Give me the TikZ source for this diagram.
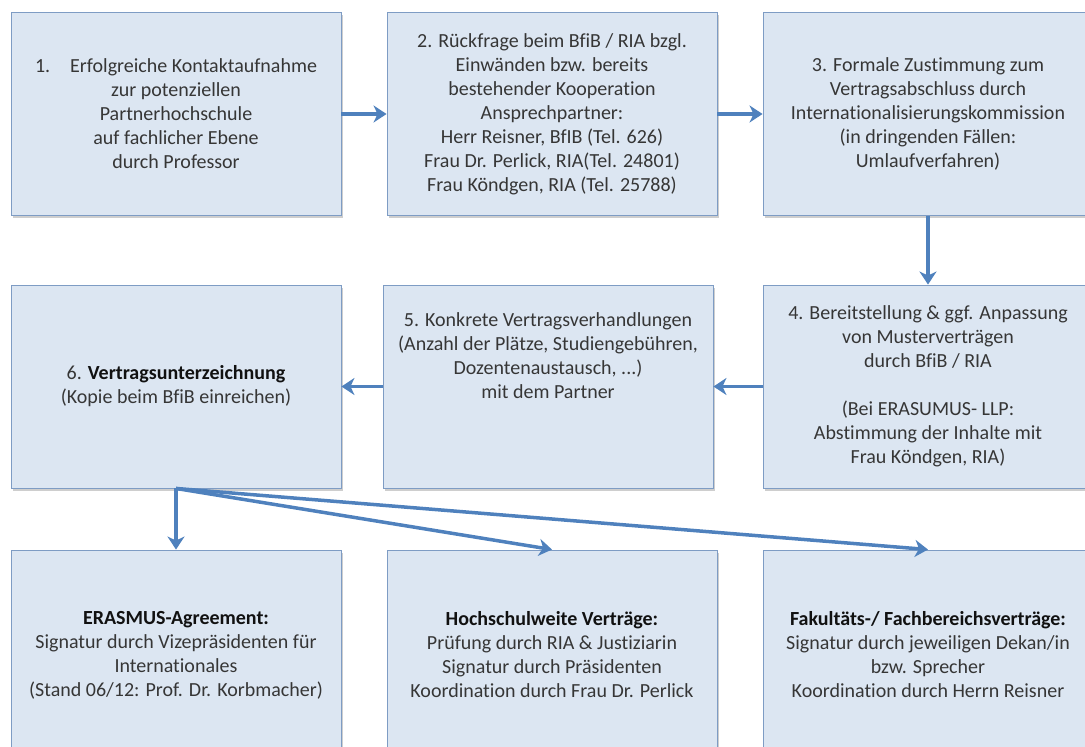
\documentclass[tikz,border=0pt]{standalone}
\usepackage{fontspec}
\setmainfont{Carlito}[Ligatures=NoCommon]
\usetikzlibrary{shapes,arrows.meta,positioning,shadows}
\definecolor{boxfill}{HTML}{DCE6F2}
\definecolor{boxline}{HTML}{7E9CC4}
\definecolor{arrowblue}{HTML}{4F81BD}
\definecolor{txtgray}{HTML}{363636}
\definecolor{txtdark}{HTML}{111111}
\tikzset{%
stepbox/.style={rectangle, draw=boxline, line width=0.9pt, fill=boxfill, minimum width=330pt, minimum height=203pt, align=center, text=txtgray, font=\fontsize{20}{24}\selectfont, drop shadow={shadow xshift=1.5pt, shadow yshift=-2.5pt, opacity=.35, fill=black!55}},
steptext/.style={align=center, text=txtgray, font=\fontsize{20}{24}\selectfont},
pt/.style={draw=arrowblue, line width=3.5pt, -{Stealth[length=13pt,width=17pt,inset=4pt]}}
}
\newcommand{\hd}[1]{\textbf{\color{txtdark}#1}}

\begin{document}
\begin{tikzpicture}[x=1pt, y=-1pt, node distance=376pt]
		\useasboundingbox (0,0) rectangle (1085,747);
		\clip (0,0) rectangle (1085,747);
		\node[stepbox] (one) at (176,114) {1.\quad Erfolgreiche Kontaktaufnahme\\zur potenziellen\\Partnerhochschule\\auf fachlicher Ebene\\durch Professor};
		\node[stepbox] (two) [right of=one] {2. Rückfrage beim BfiB / RIA bzgl.\\Einwänden bzw. bereits\\bestehender Kooperation\\Ansprechpartner:\\Herr Reisner, BfIB (Tel. 626)\\Frau Dr. Perlick, RIA(Tel. 24801)\\Frau Köndgen, RIA (Tel. 25788)};
		\node[stepbox] (three) [right of=two] {3. Formale Zustimmung zum\\Vertragsabschluss durch\\Internationalisierungskommission\\(in dringenden Fällen:\\Umlaufverfahren)};
		\node[stepbox] (four) [below of=three, node distance=272.5pt] {4. Bereitstellung \& ggf. Anpassung\\von Musterverträgen\\durch BfiB / RIA\\[24pt](Bei ERASUMUS- LLP:\\Abstimmung der Inhalte mit\\Frau Köndgen, RIA)};
		\node[stepbox] (five) [left of=four, xshift=-4pt] {};
		\node[steptext] (fivetext) at ([yshift=31pt]five.center) {5. Konkrete Vertragsverhandlungen\\(Anzahl der Plätze, Studiengebühren,\\Dozentenaustausch, ...)\\mit dem Partner};
		\node[stepbox] (six) [left of=five, xshift=4pt] {6. \hd{Vertragsunterzeichnung}\\(Kopie beim BfiB einreichen)};
		
		\node[stepbox, minimum height=210pt] (era) [below of=six, node distance=268.5pt] {\hd{ERASMUS-Agreement:}\\Signatur durch Vizepräsidenten für\\Internationales\\(Stand 06/12: Prof. Dr. Korbmacher)};
		\node[stepbox, minimum height=210pt] (hoch) [right of=era] {\hd{Hochschulweite Verträge:}\\Prüfung durch RIA \& Justiziarin\\Signatur durch Präsidenten\\Koordination durch Frau Dr. Perlick};
		\node[stepbox, minimum height=210pt] (fak) [right of=hoch] {\hd{Fakultäts-/ Fachbereichsverträge:}\\Signatur durch jeweiligen Dekan/in\\bzw. Sprecher\\Koordination durch Herrn Reisner};
		
		\draw[pt] (one) -- (two);
		\draw[pt] (two) -- (three);
		\draw[pt] (three) -- (four);
		\draw[pt] (four) -- (five);
		\draw[pt] (five) -- (six);
		\draw[pt] (six.south) -- (era.north);
		\draw[pt] (six.south) -- (hoch.north);
		\draw[pt] (six.south) -- (fak.north);
	\end{tikzpicture}
\end{document}
